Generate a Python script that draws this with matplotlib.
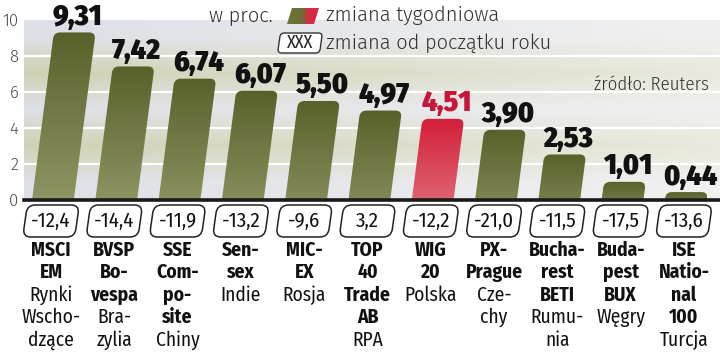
import numpy as np
import matplotlib
matplotlib.use("Agg")
import matplotlib.pyplot as plt
from matplotlib.patches import PathPatch, FancyBboxPatch, Polygon
from matplotlib.path import Path
from matplotlib.transforms import Affine2D, ScaledTranslation
from matplotlib.colors import to_rgb

# ---- data ----
week_change = [9.31, 7.42, 6.74, 6.07, 5.50, 4.97, 4.51, 3.90, 2.53, 1.01, 0.44]
week_labels = ["9,31", "7,42", "6,74", "6,07", "5,50", "4,97", "4,51", "3,90", "2,53", "1,01", "0,44"]
ytd_labels = ["-12,4", "-14,4", "-11,9", "-13,2", "-9,6", "3,2", "-12,2", "-21,0", "-11,5", "-17,5", "-13,6"]
index_names = ["MSCI\nEM", "BVSP\nBo-\nvespa", "SSE\nCom-\npo-\nsite", "Sen-\nsex", "MIC-\nEX",
               "TOP\n40\nTrade\nAB", "WIG\n20", "PX-\nPrague", "Bucha-\nrest\nBETI",
               "Buda-\npest\nBUX", "ISE\nNatio-\nnal\n100"]
regions = ["Rynki\nWscho-\ndzące", "Bra-\nzylia", "Chiny", "Indie", "Rosja", "RPA",
           "Polska", "Cze-\nchy", "Rumu-\nnia", "Węgry", "Turcja"]
highlight = "WIG\n20"

COND = ["Fira Sans Condensed", "DejaVu Sans"]
LIGHT = ["Fira Sans", "DejaVu Sans"]

OLIVE_TOP, OLIVE_BOT = "#59612a", "#8f9463"
RED_TOP, RED_BOT = "#d31f3a", "#e27c86"

fig = plt.figure(figsize=(7.2, 3.52), dpi=100)
ax = fig.add_axes([24 / 720, 1 - 200 / 352, 696 / 720, 180 / 352])
ax.set_xlim(-0.427, 10.57)
ax.set_ylim(0, 10)
for s in ax.spines.values():
    s.set_visible(False)
ax.set_xticks([])
ax.set_yticks(range(0, 11, 2))
ax.tick_params(axis="y", length=0, pad=4, labelsize=12, labelcolor="#4a4a4a")
for t in ax.get_yticklabels():
    t.set_family(LIGHT)
    t.set_fontweight(300)

# background bands with a slight left-to-right fade
gray_l, gray_r = np.array(to_rgb("#dde0e6")), np.array(to_rgb("#f1f1f1"))
oliv_l, oliv_r = np.array(to_rgb("#d0d1b4")), np.array(to_rgb("#e9e9dc"))
fade = np.linspace(0, 1, 200)[None, :, None]
rows = []
for k in range(5):
    l, r = (gray_l, gray_r) if k % 2 == 0 else (oliv_l, oliv_r)
    rows.append(l * (1 - fade) + r * fade)
bg = np.concatenate(rows[::-1], axis=0)
x0, x1 = ax.get_xlim()
ax.imshow(bg, extent=[x0, x1, 0, 10], aspect="auto", zorder=0, interpolation="bilinear")
for g in [2, 4, 6, 8]:
    ax.axhline(g, color="white", lw=1.6, zorder=1)

# slanted bars with rounded tops
slant = 0.037
for i, (v, name) in enumerate(zip(week_change, index_names)):
    red = name == highlight
    bl, br = i - 0.30, i + 0.36
    rx = 0.1
    ry = min(0.35, v * 0.7)
    def xl(y): return bl + slant * y
    def xr(y): return br + slant * y
    verts = [(bl, 0), (xl(v - ry), v - ry), (xl(v), v), (xl(v) + rx, v),
             (xr(v) - rx, v), (xr(v), v), (xr(v - ry), v - ry), (br, 0), (bl, 0)]
    codes = [Path.MOVETO, Path.LINETO, Path.CURVE3, Path.CURVE3, Path.LINETO,
             Path.CURVE3, Path.CURVE3, Path.LINETO, Path.CLOSEPOLY]
    patch = PathPatch(Path(verts, codes), facecolor="none", edgecolor="none", zorder=2)
    ax.add_patch(patch)
    top = np.array(to_rgb(RED_TOP if red else OLIVE_TOP))
    bot = np.array(to_rgb(RED_BOT if red else OLIVE_BOT))
    bot = top + (bot - top) * min(1, 0.35 + v / 12)
    t = np.linspace(0, 1, 64)[:, None, None]
    grad = top * (1 - t) + bot * t
    im = ax.imshow(np.repeat(grad, 2, axis=1), extent=[bl, xr(v), 0, v], aspect="auto",
                   zorder=2, interpolation="bilinear")
    im.set_clip_path(patch)
    ax.text(i + 0.08 + slant * v, v + 0.42, week_labels[i], ha="center", va="baseline",
            fontsize=21, fontweight=900, family=COND,
            color="#c8163a" if red else "#111111", zorder=3)

ax.set_xlim(x0, x1)
ax.axhline(0, color="#1a1a1a", lw=2.6, zorder=4, clip_on=False)

# year-to-date boxes and index names below the axis
box_y = -21 / 18
for i, (lab, name, reg) in enumerate(zip(ytd_labels, index_names, regions)):
    tr = (Affine2D().skew_deg(8, 0) + fig.dpi_scale_trans
          + ScaledTranslation(i, box_y, ax.transData))
    box = FancyBboxPatch((-0.26, -0.16), 0.52, 0.32, boxstyle="round,pad=0,rounding_size=0.08",
                         transform=tr, facecolor="white", edgecolor="#222222", lw=1.1,
                         clip_on=False)
    ax.add_patch(box)
    ax.text(i, box_y, lab, ha="center", va="center", fontsize=15, family=COND,
            color="#111111", clip_on=False)
    lines = [(s, "bold") for s in name.split("\n")] + [(s, "normal") for s in reg.split("\n")]
    for k, (s, w) in enumerate(lines):
        ax.text(i, -(50 + 22.5 * k) / 18, s, ha="center", va="center", fontsize=14,
                fontweight=w, family=COND, color="#111111", clip_on=False)

# legend and source (figure pixel overlay)
ov = fig.add_axes([0, 0, 1, 1], zorder=5)
ov.set_xlim(0, 720)
ov.set_ylim(352, 0)
ov.axis("off")
ov.patch.set_alpha(0)
ov.text(209, 15, "w proc.", ha="left", va="center", fontsize=14.5, family=LIGHT,
        fontweight=300, color="#333333")
sw = Polygon([(287, 24), (292, 8), (319, 8), (314, 24)], closed=True,
             facecolor="none", edgecolor="none", joinstyle="round")
ov.add_patch(sw)
sx = np.linspace(0, 1, 64)[None, :, None]
g_col, r_col = np.array(to_rgb("#6b7238")), np.array(to_rgb("#d82a45"))
w = np.clip((sx - 0.45) / 0.25, 0, 1)
sgrad = g_col * (1 - w) + r_col * w
im = ov.imshow(np.repeat(sgrad, 2, axis=0), extent=[287, 319, 24, 8], aspect="auto",
               interpolation="bilinear")
im.set_clip_path(sw)
ov.set_xlim(0, 720)
ov.set_ylim(352, 0)
ov.text(326, 15, "zmiana tygodniowa", ha="left", va="center", fontsize=14.5, family=LIGHT,
        fontweight=300, color="#333333")
xb = FancyBboxPatch((-21, -10), 42, 20, boxstyle="round,pad=0,rounding_size=4",
                    transform=Affine2D().skew_deg(-8, 0).translate(300, 43) + ov.transData,
                    facecolor="white", edgecolor="#333333", lw=1.0)
ov.add_patch(xb)
ov.text(300, 43, "XXX", ha="center", va="center", fontsize=13, family=COND, color="#222222")
ov.text(326, 43, "zmiana od początku roku", ha="left", va="center", fontsize=14.5,
        family=LIGHT, fontweight=300, color="#333333")
ov.text(709, 85, "źródło: Reuters", ha="right", va="center", fontsize=13.5, family=COND,
        fontweight=300, color="#333333")

fig.savefig("out.png", dpi=100)
